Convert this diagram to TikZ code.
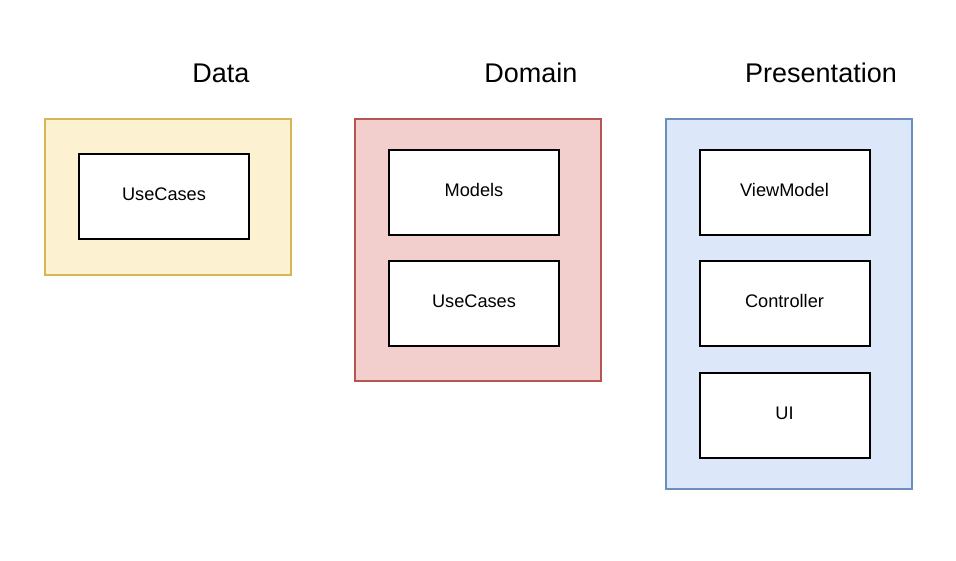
\documentclass[tikz,border=0pt]{standalone}
\usepackage{fontspec}
\setmainfont{Liberation Sans}
\definecolor{yelfill}{HTML}{FCF1D0}
\definecolor{yelline}{HTML}{D6B656}
\definecolor{redfill}{HTML}{F2CFCD}
\definecolor{redline}{HTML}{B85450}
\definecolor{bluefill}{HTML}{DCE7F9}
\definecolor{blueline}{HTML}{6C8EBF}
\begin{document}
\begin{tikzpicture}[x=1pt,y=-1pt,
  layer/.style={draw, line width=1.8pt, rectangle, minimum width=246pt, inner sep=0pt},
  part/.style={draw=black, fill=white, line width=2pt, rectangle, minimum width=170pt,
    minimum height=85pt, inner sep=0pt, text height=13pt, text depth=5pt,
    font=\fontsize{18.2}{20}\selectfont},
  heading/.style={font=\fontsize{27}{30}\selectfont, inner sep=0pt}]
\useasboundingbox (0,0) rectangle (956,560);

% layer frames
\node[layer, draw=yelline, fill=yelfill, minimum height=156pt] (data) at (168,197) {};
\node[layer, draw=redline, fill=redfill, minimum height=262pt] (domain) at (478,250) {};
\node[layer, draw=blueline, fill=bluefill, minimum height=370pt] (pres) at (789,304) {};

% headings
\node[heading] (tdata) at (221,73) {Data};
\node[heading] (tdomain) at (531,73) {Domain};
\node[heading] (tpres) at (821,73) {Presentation};

% components
\node[part] (dusecases) at (164,196.5) {UseCases};
\node[part] (models) at (474,192.5) {Models};
\node[part] (musecases) at (474,303.5) {UseCases};
\node[part] (viewmodel) at (784.5,192.5) {ViewModel};
\node[part] (controller) at (784.5,303.5) {Controller};
\node[part] (ui) at (784.5,415.5) {UI};
\end{tikzpicture}
\end{document}
